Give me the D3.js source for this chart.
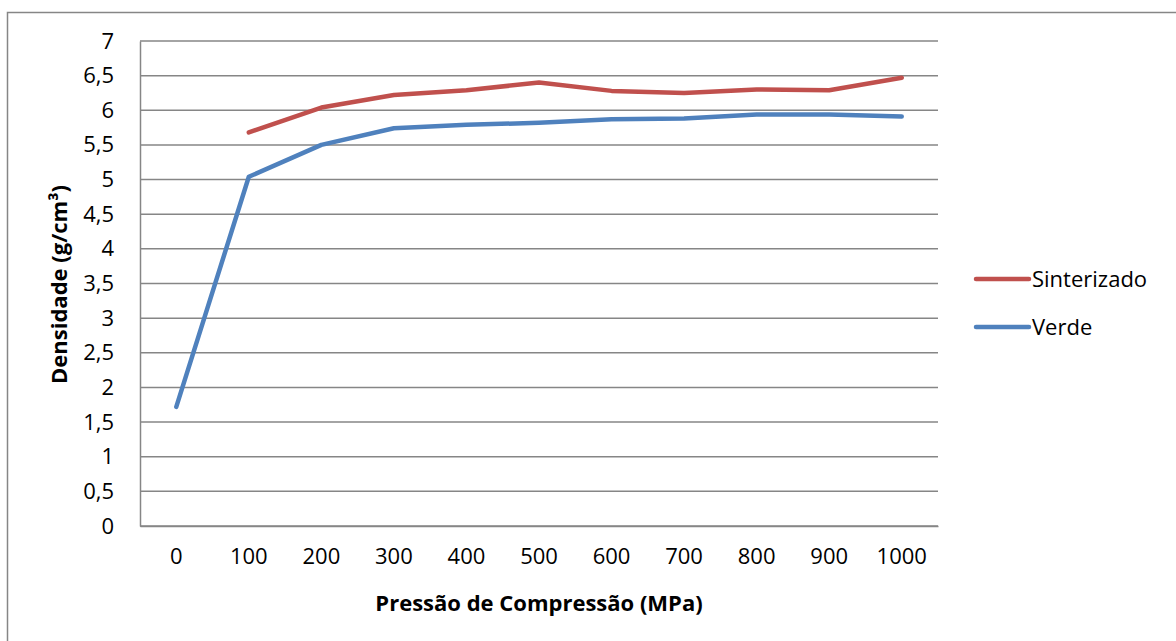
<!DOCTYPE html>
<html>
<head>
<meta charset="utf-8">
<script src="https://cdn.jsdelivr.net/npm/d3@7"></script>
<style>
  body { margin: 0; background: #fff; }
  text { font-family: "Open Sans", Lato, sans-serif; fill: #000; }
</style>
</head>
<body>
<script>
const pressures = [0, 100, 200, 300, 400, 500, 600, 700, 800, 900, 1000];
const verde = [1.72, 5.04, 5.5, 5.74, 5.79, 5.82, 5.87, 5.88, 5.94, 5.94, 5.91];
const sinterizado = [null, 5.68, 6.04, 6.22, 6.29, 6.40, 6.28, 6.25, 6.30, 6.29, 6.47];
const yTicks = [0, 0.5, 1, 1.5, 2, 2.5, 3, 3.5, 4, 4.5, 5, 5.5, 6, 6.5, 7];

const width = 1176, height = 641;
const plotLeft = 140, plotRight = 938, plotTop = 41, plotBottom = 526;
const font = "Open Sans";

const svg = d3.select("body").append("svg")
  .attr("width", width)
  .attr("height", height);

// outer chart border (runs past the window on right/bottom)
svg.append("rect")
  .attr("x", 7.5).attr("y", 12.5)
  .attr("width", 1200).attr("height", 700)
  .attr("fill", "none")
  .attr("stroke", "#868686")
  .attr("stroke-width", 1.5);

const x = d3.scaleBand().domain(pressures).range([plotLeft, plotRight]);
const y = d3.scaleLinear().domain([0, 7]).range([plotBottom, plotTop]);

// gridlines
svg.append("g")
  .selectAll("line")
  .data(yTicks)
  .enter().append("line")
  .attr("x1", plotLeft).attr("x2", plotRight)
  .attr("y1", d => y(d)).attr("y2", d => y(d))
  .attr("stroke", "#868686")
  .attr("stroke-width", 1.5);

// y axis
const yAxis = svg.append("g")
  .attr("transform", `translate(${plotLeft},0)`)
  .call(d3.axisLeft(y).tickValues(yTicks).tickSize(0).tickPadding(26)
    .tickFormat(d => String(d).replace(".", ",")));
yAxis.select(".domain").attr("stroke", "#868686").attr("stroke-width", 1.5);
yAxis.selectAll("text").attr("font-size", 22).attr("font-family", font);

// x axis
const xAxis = svg.append("g")
  .attr("transform", `translate(0,${plotBottom})`)
  .call(d3.axisBottom(x).tickSize(0).tickPadding(22));
xAxis.select(".domain").attr("stroke", "#868686").attr("stroke-width", 1.5);
xAxis.selectAll("text").attr("font-size", 22).attr("font-family", font);

const cx = d => x(d) + x.bandwidth() / 2;

const series = [
  { name: "Sinterizado", values: sinterizado, color: "#C0504D" },
  { name: "Verde", values: verde, color: "#4F81BD" }
];

const line = d3.line()
  .defined(d => d.v != null)
  .x(d => cx(d.p))
  .y(d => y(d.v));

series.forEach(s => {
  svg.append("path")
    .datum(pressures.map((p, i) => ({ p, v: s.values[i] })))
    .attr("d", line)
    .attr("fill", "none")
    .attr("stroke", s.color)
    .attr("stroke-width", 4.5)
    .attr("stroke-linecap", "round")
    .attr("stroke-linejoin", "round");
});

// legend
const legend = svg.append("g");
series.forEach((s, i) => {
  const ly = 279 + i * 48;
  legend.append("line")
    .attr("x1", 976).attr("x2", 1029)
    .attr("y1", ly).attr("y2", ly)
    .attr("stroke", s.color)
    .attr("stroke-width", 4.5)
    .attr("stroke-linecap", "round");
  legend.append("text")
    .attr("x", 1032).attr("y", ly)
    .attr("dy", "0.35em")
    .attr("font-size", 22)
    .text(s.name);
});

// axis titles
svg.append("text")
  .attr("x", (plotLeft + plotRight) / 2).attr("y", 603)
  .attr("dy", "0.35em")
  .attr("text-anchor", "middle")
  .attr("font-size", 22)
  .attr("font-weight", "bold")
  .text("Pressão de Compressão (MPa)");

svg.append("text")
  .attr("transform", `translate(59,${(plotTop + plotBottom) / 2 + 1}) rotate(-90)`)
  .attr("dy", "0.35em")
  .attr("text-anchor", "middle")
  .attr("font-size", 22)
  .attr("font-weight", "bold")
  .text("Densidade (g/cm³)");
</script>
</body>
</html>
